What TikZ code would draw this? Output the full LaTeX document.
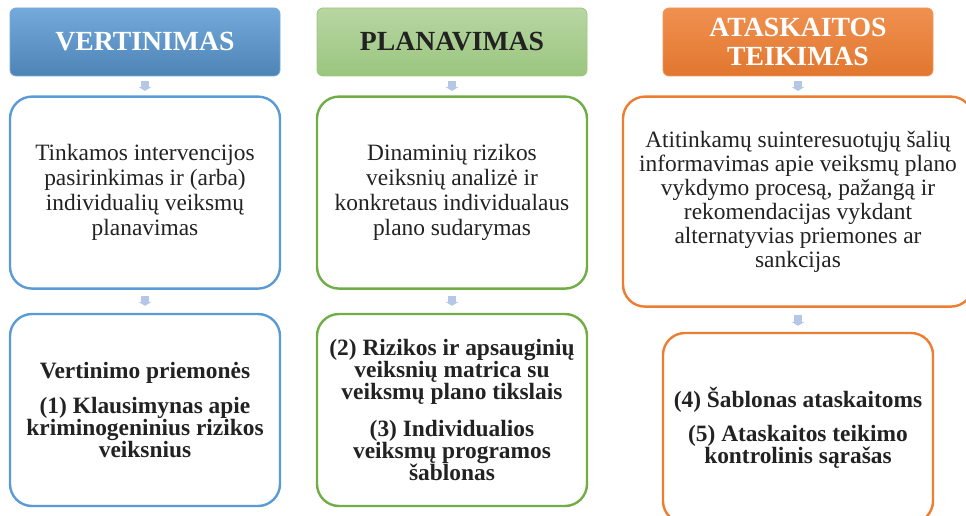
\documentclass[tikz,border=0pt]{standalone}
\usepackage{fontspec}
\setmainfont{Liberation Serif}
\usetikzlibrary{positioning,arrows.meta}
\definecolor{vblue}{HTML}{5B9BD5}
\definecolor{vgreen}{HTML}{70AD47}
\definecolor{vorange}{HTML}{ED7D31}
\definecolor{arrowblue}{HTML}{B4C7E7}
\definecolor{txtgray}{HTML}{222222}

\begin{document}
\begin{tikzpicture}[x=1pt, y=-1pt,
    head/.style={draw, rounded corners=6pt, minimum width=270pt, minimum height=68pt, inner sep=0pt, align=center, line width=0.8pt, font=\fontsize{27.7}{29}\selectfont\bfseries},
    box/.style={draw, fill=white, rounded corners=22pt, line width=2.4pt, minimum width=270pt, minimum height=192pt, inner sep=0pt, align=center, text=txtgray},
    plain/.style={font=\fontsize{23.4}{25}\selectfont},
    strong/.style={font=\fontsize{23.4}{22}\selectfont\bfseries},
    arrow/.style={draw=arrowblue, line width=8pt, -{Triangle[width=13pt,length=4pt]}, shorten <=4.5pt, shorten >=4.5pt},
]
\useasboundingbox (0,0) rectangle (966,516);
\clip (0,0) rectangle (966,516);

% headers
\node[head, draw=vblue!85, top color=vblue!85!white, bottom color=vblue!85!black, text=white] (h1) at (145,42) {VERTINIMAS};
\node[head, draw=vgreen!70!white, top color=vgreen!50!white, bottom color=vgreen!70!white, text=txtgray] (h2) at (452,42) {PLANAVIMAS};
\node[head, draw=vorange!80!white, top color=vorange!85!white, bottom color=vorange!95!black, text=white] (h3) at (798,42) {ATASKAITOS\\TEIKIMAS};

% first row
\node[box, plain, draw=vblue, below=19pt of h1] (a1) {Tinkamos intervencijos\\pasirinkimas ir (arba)\\individualių veiksmų\\planavimas};
\node[box, plain, draw=vgreen, below=19pt of h2] (a2) {Dinaminių rizikos\\veiksnių analizė ir\\konkretaus individualaus\\plano sudarymas};
\node[box, draw=vorange, minimum width=350pt, minimum height=210pt, below=19pt of h3, font=\fontsize{23.4}{24}\selectfont] (a3) {Atitinkamų suinteresuotųjų šalių\\informavimas apie veiksmų plano\\vykdymo procesą, pažangą ir\\rekomendacijas vykdant\\alternatyvias priemones ar\\sankcijas};

% second row
\node[box, strong, draw=vblue, below=23pt of a1] (b1) {Vertinimo priemonės\\[13pt](1) Klausimynas apie\\kriminogeninius rizikos\\veiksnius};
\node[box, strong, draw=vgreen, below=23pt of a2] (b2) {(2) Rizikos ir apsauginių\\veiksnių matrica su\\veiksmų plano tikslais\\[15pt](3) Individualios\\veiksmų programos\\šablonas};
\node[box, strong, draw=vorange, minimum height=190pt, below=24pt of a3] (b3) {(4) Šablonas ataskaitoms\\[12pt](5) Ataskaitos teikimo\\kontrolinis sąrašas};

\draw[arrow] (h1) -- (a1); \draw[arrow] (h2) -- (a2); \draw[arrow] (h3) -- (a3);
\draw[arrow, shorten <=6pt, shorten >=7pt] (a1) -- (b1);
\draw[arrow, shorten <=6pt, shorten >=7pt] (a2) -- (b2);
\draw[arrow, shorten <=7pt, shorten >=6pt] (a3) -- (b3);
\end{tikzpicture}
\end{document}
